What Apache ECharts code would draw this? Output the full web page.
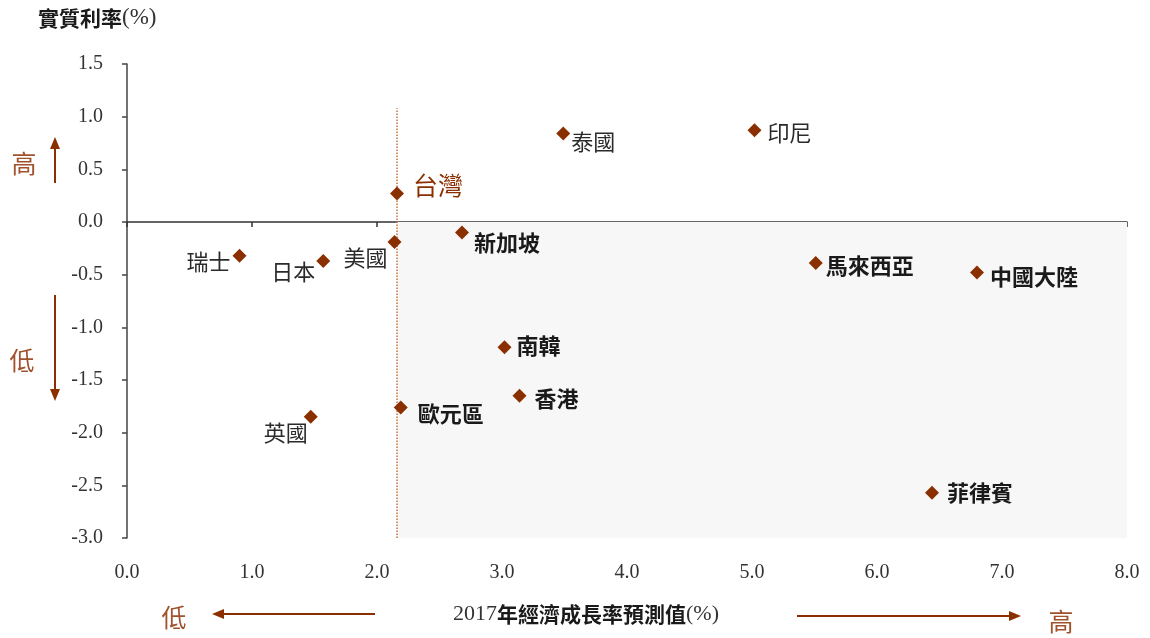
<!DOCTYPE html>
<html>
<head>
<meta charset="utf-8">
<script src="https://cdn.jsdelivr.net/npm/echarts@6/dist/echarts.min.js"></script>
<style>
  html, body { margin: 0; padding: 0; background: #fff; }
  #chart { width: 1150px; height: 638px; }
</style>
</head>
<body>
<div id="chart"></div>
<script>
// Economies, 2017 growth forecast (%) and real interest rate (%)
const economies = ['台灣', '泰國', '印尼', '瑞士', '日本', '美國', '新加坡', '馬來西亞', '中國大陸', '南韓', '香港', '歐元區', '英國', '菲律賓'];
const growth    = [2.16, 3.49, 5.02, 0.90, 1.57, 2.14, 2.68, 5.51, 6.80, 3.02, 3.14, 2.19, 1.47, 6.44];
const realRate  = [0.27, 0.84, 0.87, -0.32, -0.37, -0.19, -0.10, -0.39, -0.48, -1.19, -1.65, -1.76, -1.85, -2.57];

// Axis ranges and tick steps
const xTicks = { min: 0, max: 8, step: 1 };
const yTicks = { min: -3, max: 1.5, step: 0.5 };
const refLineTop = 1.08;   // top of the dotted reference line

const SERIF = '"Liberation Serif", "Times New Roman", serif';
const CJK = '"Noto Sans CJK TC", "Noto Sans CJK SC", sans-serif';
const BROWN = '#8a3000';
const ARROW = '#8a3000';
const SOFT_BROWN = '#a0522d';

// Label look per economy: side, gap, vertical shift, emphasis
const labelLook = {
  '台灣':   { side: 'right', gap: 9, dy: -8, kind: 'home' },
  '泰國':   { side: 'right', gap: 1, dy: 8, kind: 'light' },
  '印尼':   { side: 'right', gap: 6, dy: 2, kind: 'light' },
  '瑞士':   { side: 'left', gap: 2, dy: 6, kind: 'light' },
  '日本':   { side: 'left', gap: 1, dy: 11, kind: 'light' },
  '美國':   { side: 'left', gap: 0, dy: 16, kind: 'light' },
  '新加坡': { side: 'right', gap: 5, dy: 10, kind: 'bold' },
  '馬來西亞': { side: 'right', gap: 3, dy: 3, kind: 'bold' },
  '中國大陸': { side: 'right', gap: 6, dy: 4, kind: 'bold' },
  '南韓':   { side: 'right', gap: 5, dy: -2, kind: 'bold' },
  '香港':   { side: 'right', gap: 8, dy: 3, kind: 'bold' },
  '歐元區': { side: 'right', gap: 10, dy: 6, kind: 'bold' },
  '英國':   { side: 'left', gap: -4, dy: 16, kind: 'light' },
  '菲律賓': { side: 'right', gap: 8, dy: 0, kind: 'bold' }
};

function labelFor(name) {
  const l = labelLook[name];
  const base = {
    show: true,
    formatter: name,
    position: l.side,
    distance: l.gap,
    offset: [0, l.dy],
    fontFamily: CJK
  };
  if (l.kind === 'home') {
    return Object.assign(base, { fontSize: 25, color: BROWN, fontWeight: 'normal' });
  }
  if (l.kind === 'bold') {
    return Object.assign(base, { fontSize: 22, color: '#1a1a1a', fontWeight: 'bold' });
  }
  return Object.assign(base, { fontSize: 22, color: '#2a2a2a', fontWeight: 'normal' });
}

const points = economies.map((name, i) => ({
  name: name,
  value: [growth[i], realRate[i]],
  label: labelFor(name)
}));

const home = growth[economies.indexOf('台灣')];

const chart = echarts.init(document.getElementById('chart'), null, { renderer: 'canvas' });

// Arrow helper for the direction hints outside the plot
function arrow(x1, y1, x2, y2) {
  const dx = x2 - x1, dy = y2 - y1;
  const len = Math.hypot(dx, dy);
  const ux = dx / len, uy = dy / len;
  const hl = 12, hw = 5;
  const bx = x2 - ux * hl, by = y2 - uy * hl;
  return [
    { type: 'line', shape: { x1: x1, y1: y1, x2: bx, y2: by }, style: { stroke: ARROW, lineWidth: 2 }, silent: true },
    { type: 'polygon', shape: { points: [[x2, y2], [bx - uy * hw, by + ux * hw], [bx + uy * hw, by - ux * hw]] }, style: { fill: ARROW }, silent: true }
  ];
}

const hintText = (x, y, t) => ({
  type: 'text', x: x, y: y, silent: true,
  style: { text: t, fill: SOFT_BROWN, font: '25px ' + CJK, textAlign: 'center', textVerticalAlign: 'middle' }
});

chart.setOption({
  animation: false,
  backgroundColor: '#fff',
  grid: { left: 127, right: 23, top: 64, bottom: 100, containLabel: false },
  xAxis: [
    {
      type: 'value', min: xTicks.min, max: xTicks.max, interval: xTicks.step,
      axisLine: { show: false, onZero: false },
      axisTick: { show: false },
      splitLine: { show: false },
      axisLabel: {
        margin: 25, color: '#333', fontFamily: SERIF, fontSize: 20,
        formatter: v => v.toFixed(1)
      }
    },
    {
      type: 'value', position: 'bottom', min: xTicks.min, max: xTicks.max, interval: xTicks.step,
      axisLine: { show: true, onZero: true, lineStyle: { color: '#333', width: 1.5 } },
      axisTick: { show: true, length: 5, lineStyle: { color: '#333', width: 1.5 } },
      axisLabel: { show: false },
      splitLine: { show: false }
    }
  ],
  yAxis: {
    type: 'value', min: yTicks.min, max: yTicks.max, interval: yTicks.step,
    axisLine: { show: true, onZero: false, lineStyle: { color: '#444', width: 1.5 } },
    axisTick: { show: true, length: 5, lineStyle: { color: '#444', width: 1.5 } },
    splitLine: { show: false },
    axisLabel: {
      margin: 24, color: '#333', fontFamily: SERIF, fontSize: 20,
      formatter: v => v.toFixed(1)
    }
  },
  series: [
    {
      type: 'scatter',
      xAxisIndex: 0,
      symbol: 'diamond',
      symbolSize: 14,
      itemStyle: { color: BROWN, opacity: 1 },
      data: points,
      z: 5,
      markArea: {
        silent: true,
        itemStyle: { color: '#f7f7f7' },
        data: [[{ coord: [home, 0] }, { coord: [xTicks.max, yTicks.min] }]]
      },
      markLine: {
        silent: true,
        symbol: ['none', 'none'],
        label: { show: false },
        lineStyle: { color: '#c8703c', type: 'dotted', width: 1.5 },
        data: [[{ coord: [home, yTicks.min] }, { coord: [home, refLineTop] }]]
      }
    }
  ],
  graphic: [
    {
      type: 'text', x: 38, y: 18, silent: true,
      style: {
        text: '{b|實質利率}{s|(%)}',
        textVerticalAlign: 'middle',
        rich: {
          b: { fontFamily: CJK, fontWeight: 'bold', fontSize: 21, fill: '#1a1a1a' },
          s: { fontFamily: SERIF, fontSize: 23, fill: '#333' }
        }
      }
    },
    {
      type: 'text', x: 586, y: 614, silent: true,
      style: {
        text: '{s|2017}{b|年經濟成長率預測值}{s|(%)}',
        textAlign: 'center', textVerticalAlign: 'middle',
        rich: {
          b: { fontFamily: CJK, fontWeight: 'bold', fontSize: 21, fill: '#1a1a1a' },
          s: { fontFamily: SERIF, fontSize: 22, fill: '#333' }
        }
      }
    },
    hintText(24, 163, '高'),
    hintText(22, 360, '低'),
    hintText(174, 617, '低'),
    hintText(1061, 621, '高'),
    ...arrow(55, 183, 55, 137),
    ...arrow(55, 295, 55, 401),
    ...arrow(375, 614, 212, 614),
    ...arrow(797, 616, 1021, 616)
  ]
});
</script>
</body>
</html>
